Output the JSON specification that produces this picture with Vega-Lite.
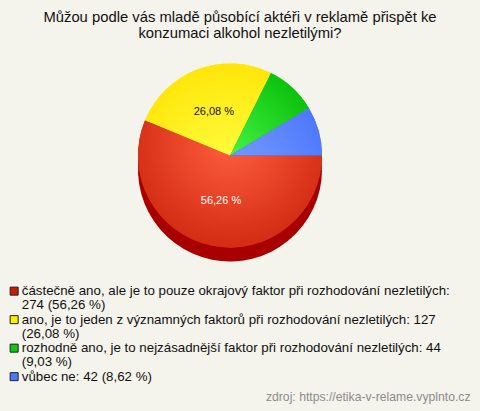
{
  "$schema": "https://vega.github.io/schema/vega-lite/v6.json",
  "width": 480,
  "height": 411,
  "autosize": {"type": "fit", "contains": "padding"},
  "padding": 0.5,
  "background": "#f4f3ec",
  "config": {
    "view": {"stroke": "#2a2a2a", "strokeWidth": 1},
    "font": "Liberation Sans",
    "style": {"guide-label": {"lineHeight": 14}}
  },
  "title": {
    "text": ["Můžou podle vás mladě působící aktéři v reklamě přispět ke", "konzumaci alkohol nezletilými?"],
    "font": "Liberation Sans",
    "fontSize": 14.8,
    "fontWeight": "normal",
    "color": "#111111",
    "anchor": "middle",
    "frame": "group",
    "offset": -40,
    "lineHeight": 16
  },
  "layer": [
    {
      "data": {
        "values": [
          {"answer": "částečně ano, ale je to pouze okrajový faktor při rozhodování nezletilých", "count": 274, "pct": 56.26},
          {"answer": "ano, je to jeden z významných faktorů při rozhodování nezletilých", "count": 127, "pct": 26.08},
          {"answer": "rozhodně ano, je to nejzásadnější faktor při rozhodování nezletilých", "count": 44, "pct": 9.03},
          {"answer": "vůbec ne", "count": 42, "pct": 8.62}
        ]
      },
      "transform": [
        {"calculate": "replace(format(datum.pct, '.2f'), '.', ',') + ' %'", "as": "pctLabel"},
        {"calculate": "datum.answer + ': ' + datum.count + ' (' + datum.pctLabel + ')'", "as": "legendLabel"},
        {"stack": "count", "groupby": [], "sort": [{"field": "count", "order": "descending"}], "as": ["t0", "t1"]}
      ],
      "layer": [
        {
          "mark": {"type": "arc", "outerRadius": 92, "x": {"expr": "width/2 - 10"}, "y": {"expr": "height*0.378 + 14"}, "fill": "#a80000"},
          "encoding": {
            "theta": {"field": "t0", "type": "quantitative", "scale": {"range": [1.5707963, 7.8539816]}},
            "theta2": {"field": "t1"}
          }
        },
        {
          "mark": {"type": "arc", "outerRadius": 92, "x": {"expr": "width/2 - 10"}, "y": {"expr": "height*0.378"}},
          "encoding": {
            "theta": {"field": "t0", "type": "quantitative", "scale": {"range": [1.5707963, 7.8539816]}},
            "theta2": {"field": "t1"},
            "color": {
              "field": "legendLabel",
              "type": "nominal",
              "sort": null,
              "scale": {"range": ["#c81e00", "#ffee00", "#10c810", "#4a78ff"]},
              "legend": {
                "title": null,
                "orient": "none",
                "legendX": 7,
                "legendY": 284,
                "direction": "vertical",
                "symbolType": "square",
                "symbolSize": 64,
                "symbolStrokeColor": "#222222",
                "symbolStrokeWidth": 1,
                "labelFont": "Liberation Sans",
                "labelFontSize": 13.3,
                "labelColor": "#111111",
                "labelLimit": 0,
                "labelOffset": 1,
                "rowPadding": 0.5,
                "labelExpr": "length(datum.label) > 75 ? [substring(datum.label, 0, lastindexof(substring(datum.label, 0, 76), ' ')), substring(datum.label, lastindexof(substring(datum.label, 0, 76), ' ') + 1)] : datum.label"
              }
            }
          }
        },
        {
          "transform": [{"filter": "datum.count == 274"}],
          "mark": {"type": "arc", "outerRadius": 92, "x": {"expr": "width/2 - 10"}, "y": {"expr": "height*0.378"},
            "color": {"gradient": "radial", "x1": 0.5, "y1": 0.28, "r1": 0, "x2": 0.5, "y2": 0.28, "r2": 0.8, "stops": [{"offset": 0, "color": "#ff5e40"}, {"offset": 1, "color": "#c01800"}]}},
          "encoding": {
            "theta": {"field": "t0", "type": "quantitative", "scale": {"range": [1.5707963, 7.8539816]}},
            "theta2": {"field": "t1"}
          }
        },
        {
          "transform": [{"filter": "datum.count == 127"}],
          "mark": {"type": "arc", "outerRadius": 92, "x": {"expr": "width/2 - 10"}, "y": {"expr": "height*0.378"},
            "color": {"gradient": "radial", "x1": 0.675, "y1": 1, "r1": 0, "x2": 0.675, "y2": 1, "r2": 1.0, "stops": [{"offset": 0, "color": "#ffff44"}, {"offset": 1, "color": "#ffe200"}]}},
          "encoding": {
            "theta": {"field": "t0", "type": "quantitative", "scale": {"range": [1.5707963, 7.8539816]}},
            "theta2": {"field": "t1"}
          }
        },
        {
          "transform": [{"filter": "datum.count == 44"}],
          "mark": {"type": "arc", "outerRadius": 92, "x": {"expr": "width/2 - 10"}, "y": {"expr": "height*0.378"},
            "color": {"gradient": "radial", "x1": 0, "y1": 1, "r1": 0, "x2": 0, "y2": 1, "r2": 1.2, "stops": [{"offset": 0, "color": "#48f448"}, {"offset": 1, "color": "#08bf08"}]}},
          "encoding": {
            "theta": {"field": "t0", "type": "quantitative", "scale": {"range": [1.5707963, 7.8539816]}},
            "theta2": {"field": "t1"}
          }
        },
        {
          "transform": [{"filter": "datum.count == 42"}],
          "mark": {"type": "arc", "outerRadius": 92, "x": {"expr": "width/2 - 10"}, "y": {"expr": "height*0.378"},
            "color": {"gradient": "radial", "x1": 0, "y1": 1, "r1": 0, "x2": 0, "y2": 1, "r2": 1.2, "stops": [{"offset": 0, "color": "#7c9eff"}, {"offset": 1, "color": "#4a76ff"}]}},
          "encoding": {
            "theta": {"field": "t0", "type": "quantitative", "scale": {"range": [1.5707963, 7.8539816]}},
            "theta2": {"field": "t1"}
          }
        },
        {
          "mark": {"type": "text", "radius": 46, "fontSize": 11, "font": "Liberation Sans", "x": {"expr": "width/2 - 10"}, "y": {"expr": "height*0.378"}},
          "encoding": {
            "theta": {"field": "count", "type": "quantitative", "stack": true, "scale": {"range": [1.5707963, 7.8539816]}},
            "detail": {"field": "legendLabel"},
            "order": {"field": "count", "sort": "descending"},
            "text": {"condition": {"test": "datum.pct > 20", "field": "pctLabel"}, "value": ""},
            "color": {"condition": {"test": "datum.pct > 50", "value": "#ffffff"}, "value": "#111111"}
          }
        }
      ]
    },
    {
      "data": {"values": [{"source": "zdroj: https://etika-v-relame.vyplnto.cz"}]},
      "mark": {"type": "text", "align": "right", "baseline": "middle", "x": {"expr": "width - 9"}, "y": {"expr": "height - 14"}, "fontSize": 12.2, "font": "Liberation Sans", "color": "#8c8c8c"},
      "encoding": {"text": {"field": "source"}}
    }
  ]
}
